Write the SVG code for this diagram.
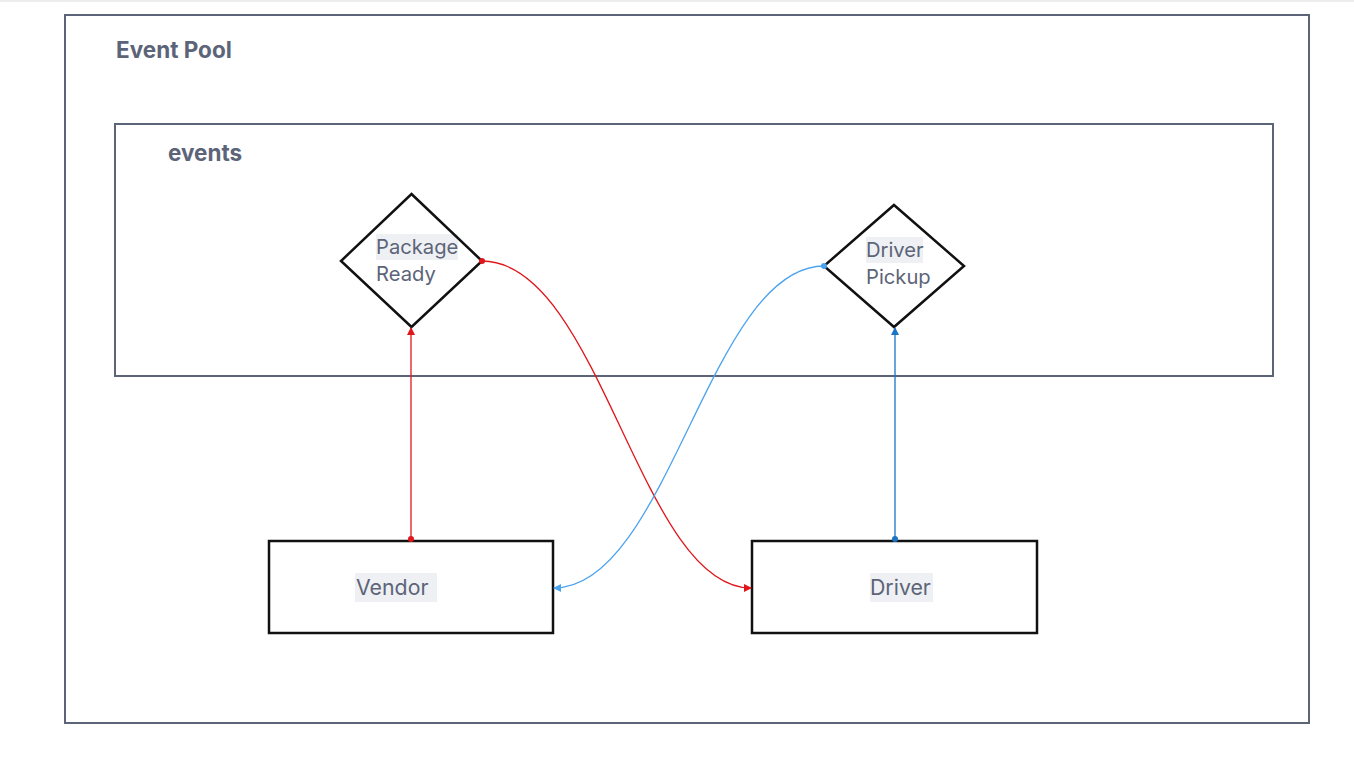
<svg xmlns="http://www.w3.org/2000/svg" width="1354" height="757" viewBox="0 0 1354 757">
<defs>
<style>
.frame{fill:none;stroke:#5c6478;stroke-width:2}
.nfill{fill:#fff;stroke:none}
.node{fill:none;stroke:#111;stroke-width:2.5}
.title{font-family:Inter,"Liberation Sans",sans-serif;font-weight:700;font-size:22.5px;fill:#5c6478}
.lbl{font-family:Inter,"Liberation Sans",sans-serif;font-size:20.2px;fill:#5c6478}
.blbl{font-family:Inter,"Liberation Sans",sans-serif;font-size:21.3px;fill:#5c6478}
.hl{fill:#eef0f3}
.red{fill:none;stroke:#e0161b;stroke-width:1.3}
.blue{fill:none;stroke:#4ca3ee;stroke-width:1.3}
.blue2{fill:none;stroke:#1b73c6;stroke-width:1.3}
</style>
<marker id="arR" viewBox="0 0 8 8" refX="7" refY="4" markerWidth="8" markerHeight="8" markerUnits="userSpaceOnUse" orient="auto"><path d="M0,0 L8,4 L0,8 z" fill="#e0161b"/></marker>
<marker id="dotR" viewBox="0 0 6 6" refX="3" refY="3" markerWidth="6" markerHeight="6" markerUnits="userSpaceOnUse"><circle cx="3" cy="3" r="3" fill="#e0161b"/></marker>
<marker id="arB" viewBox="0 0 8 8" refX="7" refY="4" markerWidth="8" markerHeight="8" markerUnits="userSpaceOnUse" orient="auto"><path d="M0,0 L8,4 L0,8 z" fill="#4ca3ee"/></marker>
<marker id="dotB" viewBox="0 0 6 6" refX="3" refY="3" markerWidth="6" markerHeight="6" markerUnits="userSpaceOnUse"><circle cx="3" cy="3" r="3" fill="#4ca3ee"/></marker>
<marker id="arB2" viewBox="0 0 8 8" refX="7" refY="4" markerWidth="8" markerHeight="8" markerUnits="userSpaceOnUse" orient="auto"><path d="M0,0 L8,4 L0,8 z" fill="#1b73c6"/></marker>
<marker id="dotB2" viewBox="0 0 6 6" refX="3" refY="3" markerWidth="6" markerHeight="6" markerUnits="userSpaceOnUse"><circle cx="3" cy="3" r="3" fill="#1b73c6"/></marker>
</defs>
<rect width="1354" height="757" fill="#fff"/>
<line x1="0" y1="1" x2="1354" y2="1" stroke="#e6e6e6" stroke-width="1.5"/>
<g id="event-pool">
<rect class="frame" x="65" y="15" width="1244" height="708"/>
<text class="title" x="116" y="58">Event Pool</text>
</g>
<g id="events">
<rect class="frame" x="115" y="124" width="1158" height="252"/>
<text class="title" x="168" y="161">events</text>
</g>
<g id="package-ready">
<path class="nfill" d="M411.5,194 L482,261 L411.5,327 L341,261 Z"/>
<rect class="hl" x="376" y="234" width="82" height="26"/>
<text class="lbl" x="376" y="254">Package</text>
<text class="lbl" x="376" y="281">Ready</text>
<path class="node" d="M411.5,194 L482,261 L411.5,327 L341,261 Z"/>
</g>
<g id="driver-pickup">
<path class="nfill" d="M894,205 L964,266 L894,327 L824,266 Z"/>
<rect class="hl" x="866" y="237" width="57" height="26"/>
<text class="lbl" x="866" y="257">Driver</text>
<text class="lbl" x="866" y="284">Pickup</text>
<path class="node" d="M894,205 L964,266 L894,327 L824,266 Z"/>
</g>
<g id="vendor">
<rect class="node" x="269" y="541" width="284" height="92" style="fill:#fff"/>
<rect class="hl" x="355" y="573" width="82" height="29"/>
<text class="blbl" x="356" y="595">Vendor</text>
</g>
<g id="driver">
<rect class="node" x="752" y="541" width="285" height="92" style="fill:#fff"/>
<rect class="hl" x="870" y="573" width="63" height="29"/>
<text class="blbl" x="870" y="595">Driver</text>
</g>
<g id="connectors">
<path class="red" d="M411,539 L411,328" marker-start="url(#dotR)" marker-end="url(#arR)"/>
<path class="red" d="M482,261 C600,261 640,588 751,588" marker-start="url(#dotR)" marker-end="url(#arR)"/>
<path class="blue2" d="M895,539 L895,328" marker-start="url(#dotB2)" marker-end="url(#arB2)"/>
<path class="blue" d="M824,266 C710,266 668,588 554,588" marker-start="url(#dotB)" marker-end="url(#arB)"/>
</g>
</svg>
